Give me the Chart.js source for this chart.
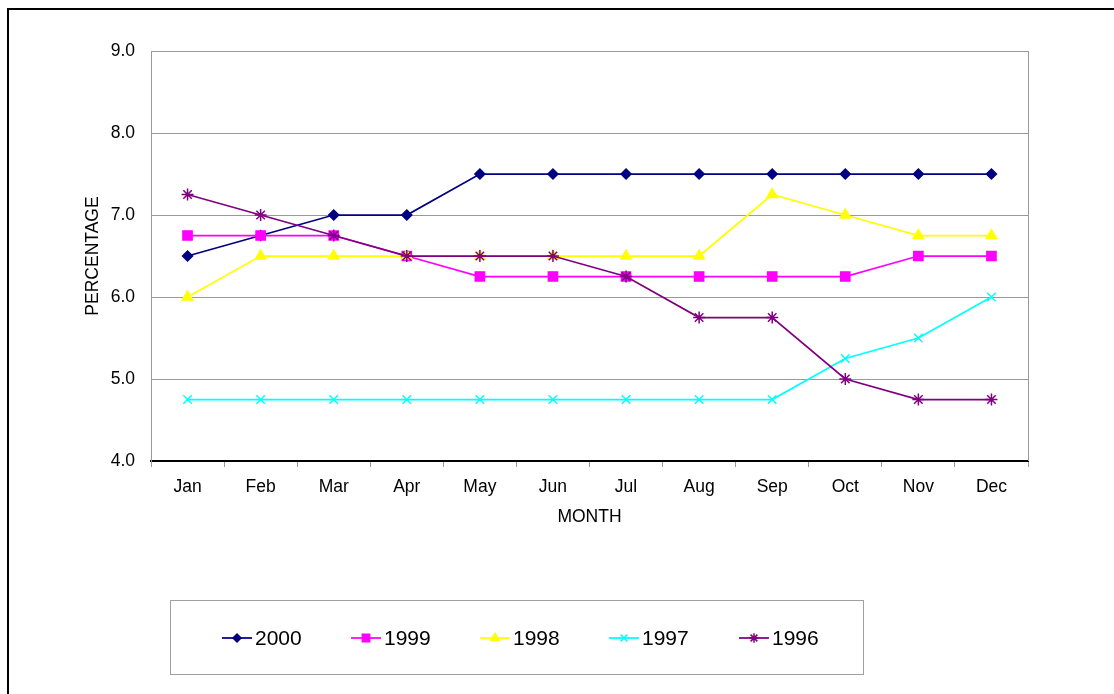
<!DOCTYPE html>
<html>
<head>
<meta charset="utf-8">
<script src="https://cdn.jsdelivr.net/npm/chart.js@4/dist/chart.umd.min.js"></script>
<style>
  html, body { margin: 0; padding: 0; background: #fff; overflow: hidden; }
  #wrap { position: relative; width: 1114px; height: 694px; overflow: hidden; }
  #frame { position: absolute; left: 7px; top: 8px; width: 1300px; height: 900px; border: 2px solid #000; }
  #c { position: absolute; left: 0; top: 0; }
  #legend { position: absolute; left: 170px; top: 600px; width: 692px; height: 73px; border: 1px solid #a0a0a0; }
  .item { position: absolute; top: 0; height: 73px; display: flex; align-items: center; font: 21px "Liberation Sans", Arial, sans-serif; color: #000; }
  .item canvas { margin-right: 3px; }
</style>
</head>
<body>
<div id="wrap">
  <div id="frame"></div>
  <canvas id="c" width="1114" height="694"></canvas>
  <div id="legend"></div>
</div>
<script>
const months = ['Jan','Feb','Mar','Apr','May','Jun','Jul','Aug','Sep','Oct','Nov','Dec'];
const s2000 = [6.5, 6.75, 7.0, 7.0, 7.5, 7.5, 7.5, 7.5, 7.5, 7.5, 7.5, 7.5];
const s1999 = [6.75, 6.75, 6.75, 6.5, 6.25, 6.25, 6.25, 6.25, 6.25, 6.25, 6.5, 6.5];
const s1998 = [6.0, 6.5, 6.5, 6.5, 6.5, 6.5, 6.5, 6.5, 7.25, 7.0, 6.75, 6.75];
const s1997 = [4.75, 4.75, 4.75, 4.75, 4.75, 4.75, 4.75, 4.75, 4.75, 5.25, 5.5, 6.0];
const s1996 = [7.25, 7.0, 6.75, 6.5, 6.5, 6.5, 6.25, 5.75, 5.75, 5.0, 4.75, 4.75];
const yTicks = [4, 5, 6, 7, 8, 9];

const FONT = '"Liberation Sans", Arial, sans-serif';

const series = [
  { label: '2000', data: s2000, color: '#000080', style: 'rectRot', r: 5 },
  { label: '1999', data: s1999, color: '#ff00ff', style: 'rect', r: 6.5 },
  { label: '1998', data: s1998, color: '#ffff00', style: 'triangle', r: 6 },
  { label: '1997', data: s1997, color: '#00ffff', style: 'crossRot', r: 6 },
  { label: '1996', data: s1996, color: '#800080', style: 'star', r: 6 }
];

const frameRight = {
  id: 'frameRight',
  beforeDatasetsDraw(chart) {
    const { ctx, chartArea: a } = chart;
    ctx.save();
    ctx.strokeStyle = '#999';
    ctx.lineWidth = 1;
    ctx.beginPath();
    ctx.moveTo(Math.round(a.right) + 0.5, a.top);
    ctx.lineTo(Math.round(a.right) + 0.5, a.bottom);
    ctx.stroke();
    ctx.restore();
  }
};

const chart = new Chart(document.getElementById('c'), {
  type: 'line',
  data: {
    labels: months,
    // later series drawn on top, like the original
    datasets: series.map((s, i) => ({
      label: s.label,
      data: s.data,
      order: series.length - i,
      borderColor: s.color,
      backgroundColor: s.color,
      pointBorderColor: s.color,
      pointBackgroundColor: s.color,
      pointStyle: s.style,
      pointRadius: s.r,
      pointBorderWidth: 1.5,
      borderWidth: 1.75,
      tension: 0
    }))
  },
  options: {
    responsive: false,
    animation: false,
    devicePixelRatio: 1,
    layout: { padding: { left: 79, top: 51, right: 86, bottom: 162 } },
    plugins: { legend: { display: false }, tooltip: { enabled: false } },
    scales: {
      x: {
        offset: true,
        grid: { offset: true, drawOnChartArea: false, drawTicks: true, tickLength: 6, color: '#999' },
        border: { color: '#000', width: 2 },
        ticks: { color: '#000', font: { family: FONT, size: 17.5 }, padding: 10, maxRotation: 0 },
        title: { display: true, text: 'MONTH', color: '#000', font: { family: FONT, size: 17.5 }, padding: 4 },
        afterFit(scale) { scale.height = 71; }
      },
      y: {
        min: 4, max: 9,
        afterBuildTicks(scale) { scale.ticks = yTicks.map(v => ({ value: v })); },
        grid: { color: '#999', drawTicks: false },
        border: { color: '#999', width: 1 },
        ticks: { color: '#000', font: { family: FONT, size: 17.5 }, padding: 16, callback: v => Number(v).toFixed(1) },
        title: { display: true, text: 'PERCENTAGE', color: '#000', font: { family: FONT, size: 17.5 }, padding: 4 },
        afterFit(scale) { scale.width = 72; }
      }
    }
  },
  plugins: [frameRight]
});

// legend: line segment with marker, then label
const legend = document.getElementById('legend');
const itemLeft = [51, 180, 309, 438, 568];
series.forEach((s, i) => {
  const it = document.createElement('div');
  it.className = 'item';
  it.style.left = itemLeft[i] + 'px';
  const cv = document.createElement('canvas');
  cv.width = 30; cv.height = 16;
  const g = cv.getContext('2d');
  g.strokeStyle = s.color;
  g.fillStyle = s.color;
  g.lineWidth = 1.75;
  g.beginPath(); g.moveTo(0, 8); g.lineTo(30, 8); g.stroke();
  g.lineWidth = 1.5;
  Chart.helpers.drawPoint(g, { pointStyle: s.style, radius: s.r * 0.8, rotation: 0, borderWidth: 1.5 }, 15, 8);
  const t = document.createElement('span');
  t.textContent = s.label;
  it.appendChild(cv);
  it.appendChild(t);
  legend.appendChild(it);
});
</script>
</body>
</html>
